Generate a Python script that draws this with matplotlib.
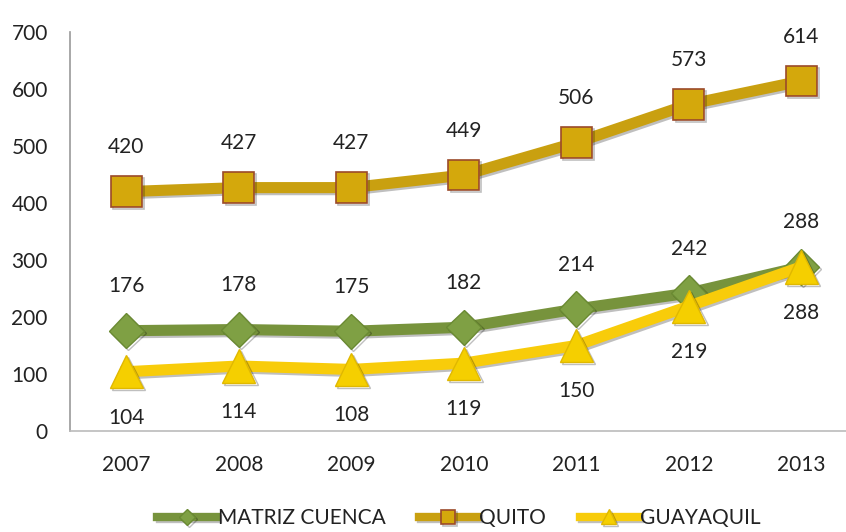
import matplotlib
matplotlib.use("Agg")
import matplotlib.pyplot as plt
import matplotlib.patheffects as pe

plt.rcParams['font.family'] = ['Lato', 'DejaVu Sans']

years = ["2007", "2008", "2009", "2010", "2011", "2012", "2013"]
matriz = [176, 178, 175, 182, 214, 242, 288]
quito = [420, 427, 427, 449, 506, 573, 614]
guayaquil = [104, 114, 108, 119, 150, 219, 288]

W, H = 846, 532
fig = plt.figure(figsize=(W / 100, H / 100), dpi=100)
left_px, right_px, top_px, bot_px = 70, 846, 32, 431
ax = fig.add_axes([left_px / W, 1 - bot_px / H, (right_px - left_px) / W, (bot_px - top_px) / H])

x = list(range(len(years)))
spacing_px = 112.5
ax.set_xlim(-0.5, -0.5 + (right_px - left_px) / spacing_px)
ax.set_ylim(0, 700)

shadow = [pe.SimpleLineShadow(offset=(1.5, -1.5), alpha=0.25), pe.Normal()]

ax.plot(x, matriz, color="#77933C", lw=8, marker="D", ms=18, mfc="#7FA044",
        mec="#6A8A32", mew=1, label="MATRIZ CUENCA", zorder=3, path_effects=shadow)
ax.plot(x, quito, color="#C9A010", lw=8, marker="s", ms=22, mfc="#D4A80C",
        mec="#9B4A2A", mew=1.2, label="QUITO", zorder=4, path_effects=shadow)
ax.plot(x, guayaquil, color="#F8CC0A", lw=8, marker="^", ms=24, mfc="#F5CF00",
        mec="#E0B800", mew=1, label="GUAYAQUIL", zorder=5, path_effects=shadow)

fs = 15
for xi, v in zip(x, quito):
    ax.annotate(str(v), (xi, v), xytext=(0, 32), textcoords="offset points",
                ha="center", va="center", fontsize=fs, color="#222222")
for xi, v in zip(x, matriz):
    ax.annotate(str(v), (xi, v), xytext=(0, 32), textcoords="offset points",
                ha="center", va="center", fontsize=fs, color="#222222")
for xi, v in zip(x, guayaquil):
    ax.annotate(str(v), (xi, v), xytext=(0, -33), textcoords="offset points",
                ha="center", va="center", fontsize=fs, color="#222222")

ax.set_xticks(x)
ax.set_xticklabels(years, fontsize=fs, color="#222222")
ax.set_yticks(range(0, 701, 100))
ax.set_yticklabels([str(v) for v in range(0, 701, 100)], fontsize=fs, color="#222222")
ax.tick_params(axis="both", length=0)
ax.tick_params(axis="x", pad=17)
ax.tick_params(axis="y", pad=16)

for s in ["top", "right"]:
    ax.spines[s].set_visible(False)
ax.spines["left"].set_color("#999999")
ax.spines["bottom"].set_color("#BBBBBB")
ax.spines["left"].set_linewidth(1.2)
ax.spines["bottom"].set_linewidth(1.2)

leg = fig.legend(loc="center", bbox_to_anchor=(459 / W, 1 - 518 / H), ncol=3,
                 frameon=False, fontsize=fs, handlelength=2.8, columnspacing=1.6,
                 handletextpad=0.1, markerscale=0.45)
for t in leg.get_texts():
    t.set_color("#222222")
for h in leg.legend_handles:
    h.set_linewidth(6)

fig.savefig("out.png", dpi=100)
